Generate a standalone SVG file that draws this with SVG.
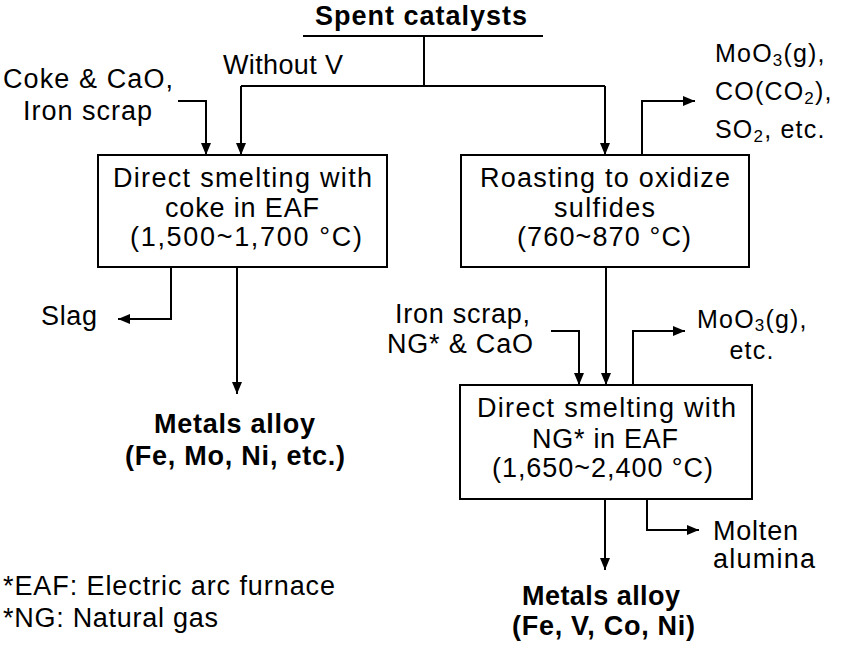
<svg xmlns="http://www.w3.org/2000/svg" width="844" height="647" viewBox="0 0 844 647">
<style>
text{font-family:"Liberation Sans",Arial,sans-serif;font-size:27px;fill:#000}
.b{font-weight:bold}
.m{text-anchor:middle}
.s{font-size:25px;letter-spacing:1.2px}
.box{fill:#fff;stroke:#000;stroke-width:2}
.c{fill:none;stroke:#000;stroke-width:2}
</style>
<defs>
<marker id="ah" markerUnits="userSpaceOnUse" markerWidth="13" markerHeight="11" refX="12" refY="5" orient="auto">
<path d="M0,0 L12,5 L0,10 z" fill="#000"/>
</marker>
</defs>
<rect width="844" height="647" fill="#fff"/>
<g id="connectors">
<path class="c" d="M303,36 H543"/>
<path class="c" d="M424,36 V86"/>
<path class="c" d="M241,86 H605"/>
<path class="c" d="M241,86 V155" marker-end="url(#ah)"/>
<path class="c" d="M605,86 V155" marker-end="url(#ah)"/>
<path class="c" d="M178,101 H206 V155" marker-end="url(#ah)"/>
<path class="c" d="M642,155 V101 H695" marker-end="url(#ah)"/>
<path class="c" d="M171,267 V319 H118" marker-end="url(#ah)"/>
<path class="c" d="M237,267 V394" marker-end="url(#ah)"/>
<path class="c" d="M606,267 V385" marker-end="url(#ah)"/>
<path class="c" d="M551,331 H579 V385" marker-end="url(#ah)"/>
<path class="c" d="M633,385 V331 H685" marker-end="url(#ah)"/>
<path class="c" d="M605,499 V570" marker-end="url(#ah)"/>
<path class="c" d="M647,499 V530 H699" marker-end="url(#ah)"/>
</g>
<g id="spent">
<text class="b" x="315" y="25" textLength="212">Spent catalysts</text>
</g>
<g id="withoutV">
<text x="223" y="74" textLength="120">Without V</text>
</g>
<g id="coke">
<text x="3" y="88" textLength="170">Coke &amp; CaO,</text>
<text x="23" y="120" textLength="129">Iron scrap</text>
</g>
<g id="box1">
<rect class="box" x="98" y="155" width="289" height="112"/>
<text x="113" y="187" textLength="259">Direct smelting with</text>
<text x="165" y="217" textLength="154">coke in EAF</text>
<text x="130" y="246" textLength="232">(1,500~1,700 °C)</text>
</g>
<g id="box2">
<rect class="box" x="461" y="155" width="288" height="112"/>
<text x="480" y="187" textLength="250">Roasting to oxidize</text>
<text x="554" y="217" textLength="101">sulfides</text>
<text x="517" y="246" textLength="174">(760~870 °C)</text>
</g>
<g id="gas1">
<text class="s" x="715" y="62">MoO<tspan font-size="17" dy="4">3</tspan><tspan dy="-4">(g),</tspan></text>
<text class="s" x="715" y="100">CO(CO<tspan font-size="17" dy="4">2</tspan><tspan dy="-4">),</tspan></text>
<text class="s" x="715" y="138">SO<tspan font-size="17" dy="4">2</tspan><tspan dy="-4">, etc.</tspan></text>
</g>
<g id="slag">
<text x="41" y="325" textLength="56">Slag</text>
</g>
<g id="alloy1">
<text class="b" x="154" y="433" textLength="161">Metals alloy</text>
<text class="b" x="125" y="465" textLength="220">(Fe, Mo, Ni, etc.)</text>
</g>
<g id="iron2">
<text x="395" y="323" textLength="135">Iron scrap,</text>
<text x="387" y="353" textLength="146">NG* &amp; CaO</text>
</g>
<g id="gas2">
<text class="s" x="697" y="328">MoO<tspan font-size="17" dy="3">3</tspan><tspan dy="-3">(g),</tspan></text>
<text class="s m" x="752" y="359">etc.</text>
</g>
<g id="box3">
<rect class="box" x="460" y="385" width="292" height="114"/>
<text x="477" y="417" textLength="259">Direct smelting with</text>
<text x="532" y="448" textLength="146">NG* in EAF</text>
<text x="492" y="477" textLength="221">(1,650~2,400 °C)</text>
</g>
<g id="molten">
<text x="713" y="540" textLength="85">Molten</text>
<text x="713" y="568" textLength="102">alumina</text>
</g>
<g id="alloy2">
<text class="b" x="522" y="605" textLength="158">Metals alloy</text>
<text class="b" x="512" y="635" textLength="183">(Fe, V, Co, Ni)</text>
</g>
<g id="notes">
<text x="3" y="595" textLength="332">*EAF: Electric arc furnace</text>
<text x="3" y="627" textLength="215">*NG: Natural gas</text>
</g>
</svg>
